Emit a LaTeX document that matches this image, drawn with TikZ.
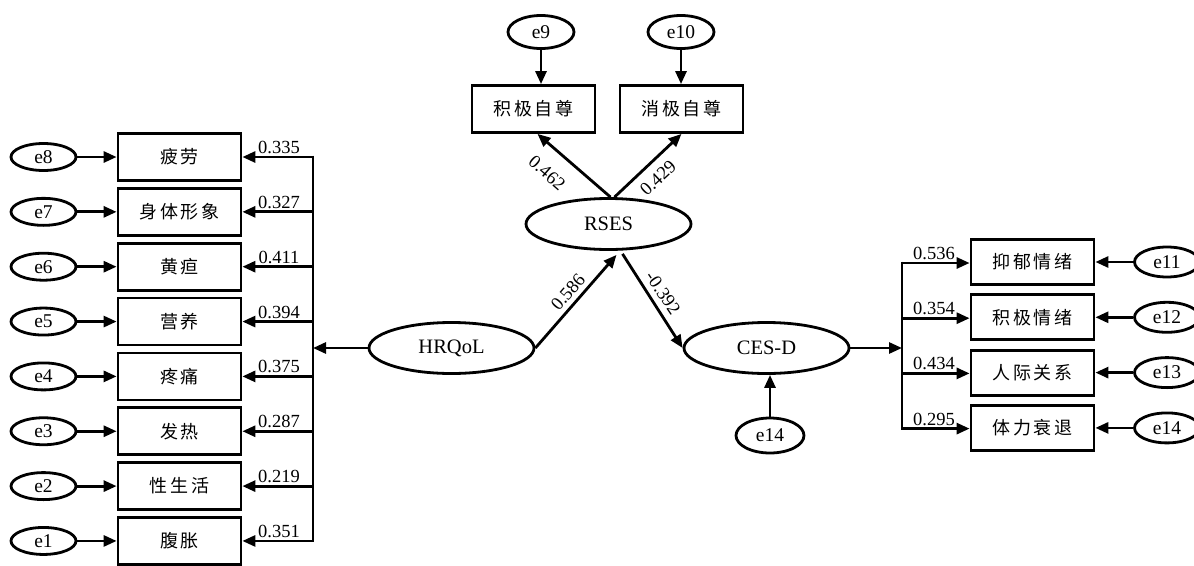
\documentclass[tikz,border=0pt]{standalone}
\usepackage{fontspec}
\setmainfont{Liberation Serif}
\newfontfamily\cjk[LetterSpace=15]{Noto Sans CJK SC}
\usetikzlibrary{arrows.meta,shapes.geometric}
\begin{document}
\begin{tikzpicture}[x=1pt,y=-1pt,
 box/.style={draw,line width=2.8pt,minimum width=123pt,minimum height=47pt,inner sep=0pt,font=\cjk\fontsize{18}{20}\selectfont},
 err/.style={draw,ellipse,line width=2.8pt,minimum width=65pt,minimum height=27pt,inner sep=0pt,font=\fontsize{19.5}{22}\selectfont},
 lat/.style={draw,ellipse,line width=2.8pt,minimum width=165pt,minimum height=51pt,inner sep=0pt,font=\fontsize{20.5}{24}\selectfont},
 arr/.style={line width=2.8pt,-{Triangle[length=13pt,width=11pt]}},
 ln/.style={line width=2.8pt},
 coef/.style={font=\fontsize{18.5}{20}\selectfont,inner sep=1pt}]
\useasboundingbox (0,0) rectangle (1194,565);
% left side
\foreach \i/\t/\e/\c [count=\k from 0] in {
  8/疲劳/e8/0.335, 7/身体形象/e7/0.327, 6/黄疸/e6/0.411, 5/营养/e5/0.394,
  4/疼痛/e4/0.375, 3/发热/e3/0.287, 2/性生活/e2/0.219, 1/腹胀/e1/0.351}{
  \node[box] (b\i) at (179.5,{157+54.85*\k}) {\t};
  \node[err] (e\i) at (43.5,{157+54.85*\k}) {\e};
  \draw[arr] (e\i.east) -- (b\i.west);
  \coordinate (l\i) at (313,{157+54.85*\k});
  \draw[arr] (l\i) -- (b\i.east);
  \node[coef,anchor=south] at (279,{155+54.85*\k}) {\c};
}
\draw[ln] ([yshift=1.4pt]l8) -- ([yshift=-1.4pt]l1);
\coordinate (lbar) at (313,348);
% latent
\node[lat] (hrqol) at (451.5,348) {HRQoL};
\node[lat] (rses) at (608.5,224) {RSES};
\node[lat] (cesd) at (766.5,348) {CES-D};
\draw[arr] (hrqol.west) -- (lbar);
% RSES indicators
\node[box] (p1) at (533.5,109) {积极自尊};
\node[box] (p2) at (681.5,109) {消极自尊};
\node[err,minimum width=66pt,minimum height=33pt] (e9) at (541,32) {e9};
\node[err,minimum width=66pt,minimum height=33pt] (e10) at (681,32) {e10};
\draw[arr] (e9.south) -- (e9.south |- p1.north);
\draw[arr] (e10.south) -- (e10.south |- p2.north);
\draw[arr] ([xshift=2pt]rses.north) -- ([xshift=4pt]p1.south);
\draw[arr] ([xshift=6pt]rses.north) -- ([xshift=0pt]p2.south);
\node[coef,rotate=-41] at (547,173) {0.462};
\node[coef,rotate=43] at (658,178) {0.429};
% structural paths
\draw[arr] (hrqol.east) -- ([xshift=8pt,yshift=-4pt]rses.south);
\draw[arr] ([xshift=14pt,yshift=-3pt]rses.south) -- (cesd.west);
\node[coef,rotate=49] at (568,292) {0.586};
\node[coef,rotate=-56] at (663,293) {-0.392};
\node[err,minimum width=68pt,minimum height=35pt] (e14c) at (770,435.5) {e14};
\draw[arr] (e14c.north) -- (e14c.north |- cesd.south);
% right side
\coordinate (rbar) at (902,348);
\draw[arr] (cesd.east) -- (rbar);
\foreach \i/\t/\e/\c [count=\k from 0] in {
  11/抑郁情绪/e11/0.536, 12/积极情绪/e12/0.354, 13/人际关系/e13/0.434, 14/体力衰退/e14/0.295}{
  \node[box,minimum height=45pt] (r\i) at (1032.5,{262+55.3*\k}) {\t};
  \node[err,minimum height=30pt] (f\i) at (1167,{262+55.3*\k}) {\e};
  \draw[arr] (f\i.west) -- (r\i.east);
  \coordinate (rr\i) at (902,{263+55.2*\k});
  \draw[arr] (rr\i) -- (rr\i -| r\i.west);
  \node[coef,anchor=south] at (934,{261+55.2*\k}) {\c};
}
\draw[ln] ([yshift=1.4pt]rr11) -- ([yshift=-1.4pt]rr14);
\end{tikzpicture}
\end{document}
